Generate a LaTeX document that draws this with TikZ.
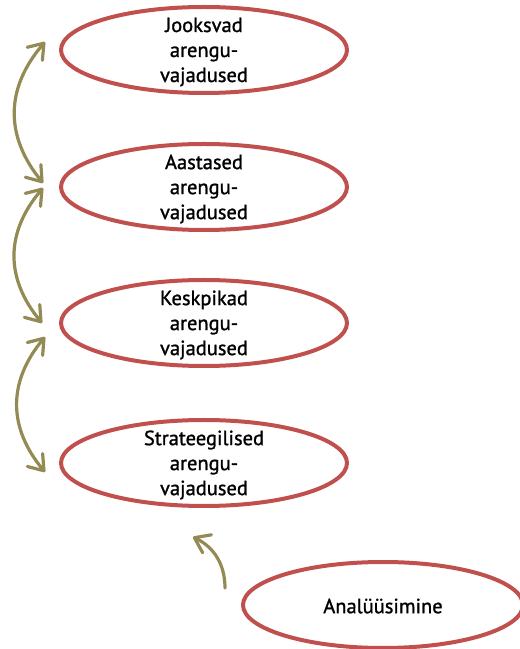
\documentclass[tikz,border=0pt]{standalone}
\usepackage{fontspec}
\setmainfont{PT Sans}[FakeBold=1.2]
\usetikzlibrary{arrows.meta,shapes.geometric}
\definecolor{ellred}{HTML}{C0504D}
\definecolor{olive}{HTML}{948A54}
\tikzset{
  ellbox/.style={draw=ellred, line width=4pt, ellipse, minimum width=286pt, minimum height=86pt, inner sep=0pt},
  lbl/.style={align=center, font=\fontsize{20.5}{25}\selectfont, inner sep=0pt},
  conn/.style={draw=olive, line width=3.2pt, line cap=round, {Straight Barb[length=14pt,width=20pt,line cap=round,line join=round]}-{Straight Barb[length=14pt,width=20pt,line cap=round,line join=round]}},
  oneway/.style={draw=olive, line width=3.2pt, line cap=round, -{Straight Barb[length=14pt,width=20pt,line cap=round,line join=round]}}
}
\begin{document}
\begin{tikzpicture}[x=1pt,y=1pt]
\useasboundingbox (0,0) rectangle (520,649);
\node[ellbox] (e1) at (204,599) {};
\node[ellbox] (e2) at (204,462) {};
\node[ellbox] (e3) at (204,326) {};
\node[ellbox] (e4) at (204,186) {};
\node[ellbox, minimum width=280pt] (e5) at (383,44) {};
\node[lbl] (t1) at ([yshift=-2pt]e1.center) {Jooksvad\\arengu-\\vajadused};
\node[lbl] (t2) at ([yshift=-2pt]e2.center) {Aastased\\arengu-\\vajadused};
\node[lbl] (t3) at ([yshift=-2pt]e3.center) {Keskpikad\\arengu-\\vajadused};
\node[lbl] (t4) at ([yshift=-2pt]e4.center) {Strateegilised\\arengu-\\vajadused};
\node[lbl] (t5) at ([yshift=-1pt]e5.center) {Analüüsimine};
\coordinate (a1) at (45,607);
\coordinate (b1) at (43,466);
\coordinate (a2) at (43,461);
\coordinate (b2) at (42,326);
\coordinate (a3) at (45,312);
\coordinate (b3) at (45,177);
\coordinate (s5) at (225,61);
\coordinate (d5) at (193,112);
\draw[conn] (a1) to[bend right=40, looseness=1.1] (b1);
\draw[conn] (a2) to[bend right=40, looseness=1.1] (b2);
\draw[conn] (a3) to[bend right=40, looseness=1.1] (b3);
\draw[oneway] (s5) to[bend right=32] (d5);
\end{tikzpicture}
\end{document}
